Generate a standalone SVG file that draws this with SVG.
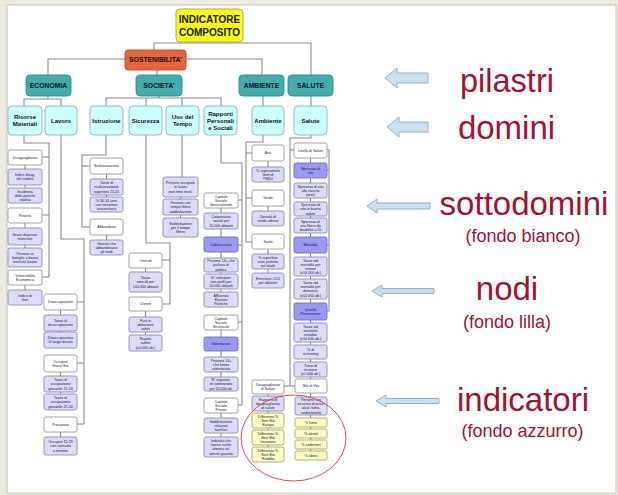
<svg xmlns="http://www.w3.org/2000/svg" width="618" height="495" viewBox="0 0 618 495">
<style>
.c{stroke:#8a8a8a;stroke-width:1.1;fill:none}
.b{stroke-width:0.9}
.top{fill:#ffff00;stroke:#999}
.sos{fill:#e8643c;stroke:#b05030}
.pil{fill:#41adad;stroke:#2f8c8c}
.dom{fill:#ccffff;stroke:#8ab4b4}
.w{fill:#ffffff;stroke:#9a9a9a}
.l{fill:#dcdcf8;stroke:#8c8cb4}
.p{fill:#9a9af5;stroke:#6f6fc0}
.y{fill:#fafac0;stroke:#a8a870}
.h{font-family:"Liberation Sans",Arial,sans-serif;font-weight:bold;fill:#111;text-anchor:middle}
.s{font-family:"Liberation Sans",Arial,sans-serif;font-size:3.6px;fill:#202040;text-anchor:middle}
.ds{font-family:"Liberation Sans",Arial,sans-serif;font-weight:bold;font-size:6px;fill:#111;text-anchor:middle}
.lg{font-family:"Liberation Sans",Arial,sans-serif;fill:#a3122e;text-anchor:middle}
.ar{fill:#c9e0ee;stroke:#8db4cc;stroke-width:1}
</style>

<!-- page frame -->
<rect x="0" y="0" width="618" height="495" fill="#edeae0"/>
<rect x="7" y="5" width="609" height="488" fill="#ffffff" stroke="#c8c6bc" stroke-width="1"/>

<!-- connectors -->
<g id="connectors" class="c">
  <polyline points="209,42 209,43"/>
  <polyline points="154,50 154,43 311,43 311,75"/>
  <polyline points="48,75 48,59 262,59 262,75"/>
  <polyline points="157,70 157,75"/>
  <polyline points="48,96 48,99"/>
  <polyline points="24,106 24,99 61,99 61,106"/>
  <polyline points="159,96 159,98"/>
  <polyline points="106,106 106,98 221,98 221,106"/>
  <polyline points="146,98 146,106"/>
  <polyline points="182,98 182,106"/>
  <polyline points="263,96 263,106"/>
  <polyline points="311,96 311,106"/>
  <!-- Risorse Materiali -->
  <polyline points="24,135 24,143 49,143 49,277"/>
  <polyline points="42,157 49,157"/><polyline points="42,215 49,215"/><polyline points="42,277 49,277"/>
  <polyline points="25,165 25,188"/><polyline points="25,223 25,248"/><polyline points="25,285 25,290"/>
  <!-- Lavoro -->
  <polyline points="61,135 61,239 84,239 84,424"/>
  <polyline points="77,302 84,302"/><polyline points="77,363 84,363"/><polyline points="77,424 84,424"/>
  <polyline points="60.5,310 60.5,332"/><polyline points="60.5,372 60.5,394"/><polyline points="60.5,432 60.5,437"/>
  <!-- Istruzione -->
  <polyline points="106,135 106,155 82,155 82,227"/>
  <polyline points="82,166 90,166"/><polyline points="82,227 90,227"/>
  <polyline points="106.5,174 106.5,197"/><polyline points="106.5,235 106.5,240"/>
  <!-- Sicurezza -->
  <polyline points="146,135 146,243 170,243 170,304"/>
  <polyline points="162,260 170,260"/><polyline points="162,304 170,304"/>
  <polyline points="145.5,268 145.5,272"/><polyline points="145.5,311 145.5,335"/>
  <!-- Uso del Tempo -->
  <polyline points="182,135 182,177"/>
  <polyline points="180.5,197 180.5,218"/>
  <!-- Rapporti Personali e Sociali -->
  <polyline points="221,135 221,163 242,163 242,405"/>
  <polyline points="238,200 242,200"/><polyline points="238,245 242,245"/><polyline points="238,322 242,322"/><polyline points="238,405 242,405"/>
  <polyline points="221,208 221,292"/><polyline points="221,330 221,377"/><polyline points="221,413 221,437"/>
  <!-- Ambiente -->
  <polyline points="263,135 263,142 246,142 246,242"/>
  <polyline points="246,153 252,153"/><polyline points="246,198 252,198"/><polyline points="246,242 252,242"/>
  <polyline points="268,161 268,167"/><polyline points="268,206 268,211"/><polyline points="268,249 268,273"/>
  <!-- Salute -->
  <polyline points="311,135 311,138 290,138 290,386"/>
  <polyline points="290,150 294,150"/><polyline points="284,386 295,386"/>
  <polyline points="327,150 329,150 329,311 327,311"/>
  <polyline points="327,170 329,170"/><polyline points="327,245 329,245"/>
  <polyline points="310.5,158 310.5,451"/>
  <polyline points="268,394 268,447"/>
</g>

<!-- top levels -->
<g id="n-indicatore"><rect class="top b" x="176" y="9" width="67" height="33" rx="4"/><text class="h" font-size="10" x="209.5" y="23">INDICATORE</text><text class="h" font-size="10" x="209.5" y="35.5">COMPOSITO</text></g>
<g id="n-sostenibilita"><rect class="sos b" x="125" y="50" width="61" height="20" rx="3"/><text class="h" font-size="6.8" x="155.5" y="62.4">SOSTENIBILITA'</text></g>
<g id="n-economia"><rect class="pil b" x="26" y="75" width="45" height="21" rx="4"/><text class="h" font-size="6.8" x="48.5" y="88">ECONOMIA</text></g>
<g id="n-societa"><rect class="pil b" x="136" y="75" width="46" height="21" rx="4"/><text class="h" font-size="6.8" x="159" y="88">SOCIETA'</text></g>
<g id="n-ambiente"><rect class="pil b" x="239" y="75" width="45" height="21" rx="4"/><text class="h" font-size="6.8" x="261.5" y="88">AMBIENTE</text></g>
<g id="n-salute"><rect class="pil b" x="288" y="75" width="45" height="21" rx="4"/><text class="h" font-size="6.8" x="310.5" y="88">SALUTE</text></g>

<!-- domains -->
<g id="d-risorse"><rect class="dom b" x="8" y="106" width="34" height="29" rx="4"/><text class="ds" x="25" y="119">Risorse</text><text class="ds" x="25" y="126">Materiali</text></g>
<g id="d-lavoro"><rect class="dom b" x="45" y="106" width="32" height="29" rx="4"/><text class="ds" x="61" y="122.5">Lavoro</text></g>
<g id="d-istruzione"><rect class="dom b" x="90" y="106" width="33" height="29" rx="4"/><text class="ds" x="106.5" y="122.5">Istruzione</text></g>
<g id="d-sicurezza"><rect class="dom b" x="129" y="106" width="33" height="29" rx="4"/><text class="ds" x="145.5" y="122.5">Sicurezza</text></g>
<g id="d-tempo"><rect class="dom b" x="166" y="106" width="33" height="29" rx="4"/><text class="ds" x="182.5" y="119">Uso del</text><text class="ds" x="182.5" y="126">Tempo</text></g>
<g id="d-rapporti"><rect class="dom b" x="204" y="106" width="33" height="29" rx="4"/><text class="ds" x="220.5" y="115.5">Rapporti</text><text class="ds" x="220.5" y="122.5">Personali</text><text class="ds" x="220.5" y="129.5">e Sociali</text></g>
<g id="d-ambiente"><rect class="dom b" x="252" y="106" width="32" height="29" rx="4"/><text class="ds" x="268" y="122.5">Ambiente</text></g>
<g id="d-salute"><rect class="dom b" x="294" y="106" width="33" height="29" rx="4"/><text class="ds" x="310.5" y="122.5">Salute</text></g>

<!-- Risorse Materiali -->
<g id="rm1"><rect class="w b" x="8" y="150" width="34" height="15" rx="2"/><text class="s" x="25" y="158.8">Disuguaglianza</text></g>
<g id="rm2"><rect class="l b" x="8" y="169" width="34" height="16" rx="2"/><text class="s" x="25" y="176.2">Indice disug.</text><text class="s" x="25" y="180.4">del reddito</text></g>
<g id="rm3"><rect class="l b" x="8" y="188" width="34" height="15" rx="2"/><text class="s" x="25" y="192.6">Incidenza</text><text class="s" x="25" y="196.8">della povertà</text><text class="s" x="25" y="201">relativa</text></g>
<g id="rm4"><rect class="w b" x="8" y="208" width="34" height="15" rx="2"/><text class="s" x="25" y="216.8">Povertà</text></g>
<g id="rm5"><rect class="l b" x="8" y="228" width="34" height="17" rx="2"/><text class="s" x="25" y="235.7">Grave deprivaz.</text><text class="s" x="25" y="239.9">materiale</text></g>
<g id="rm6"><rect class="l b" x="8" y="248" width="34" height="19" rx="2"/><text class="s" x="25" y="254.6">Persone in</text><text class="s" x="25" y="258.8">famiglie a bassa</text><text class="s" x="25" y="263">intensità lavoro</text></g>
<g id="rm7"><rect class="w b" x="8" y="270" width="34" height="15" rx="2"/><text class="s" x="25" y="276.7">Vulnerabilità</text><text class="s" x="25" y="280.9">Economica</text></g>
<g id="rm8"><rect class="l b" x="8" y="290" width="34" height="15" rx="2"/><text class="s" x="25" y="296.7">Indice di</text><text class="s" x="25" y="300.9">Gini</text></g>

<!-- Lavoro -->
<g id="lv1"><rect class="w b" x="44" y="294" width="33" height="16" rx="2"/><text class="s" x="60.5" y="303.3">Disoccupazione</text></g>
<g id="lv2"><rect class="l b" x="44" y="315" width="33" height="16" rx="2"/><text class="s" x="60.5" y="322.2">Tasso di</text><text class="s" x="60.5" y="326.4">disoccupazione</text></g>
<g id="lv3"><rect class="l b" x="44" y="332" width="33" height="16" rx="2"/><text class="s" x="60.5" y="339.2">Disoccupazione</text><text class="s" x="60.5" y="343.4">di lunga durata</text></g>
<g id="lv4"><rect class="w b" x="44" y="355" width="33" height="17" rx="2"/><text class="s" x="60.5" y="362.7">Occupati</text><text class="s" x="60.5" y="366.9">Fasce Età</text></g>
<g id="lv5"><rect class="l b" x="44" y="376" width="33" height="16" rx="2"/><text class="s" x="60.5" y="381.1">Tasso di</text><text class="s" x="60.5" y="385.3">occupazione</text><text class="s" x="60.5" y="389.5">giovanile 15-24</text></g>
<g id="lv6"><rect class="l b" x="44" y="394" width="33" height="16" rx="2"/><text class="s" x="60.5" y="399.1">Tasso di</text><text class="s" x="60.5" y="403.3">occupazione</text><text class="s" x="60.5" y="407.5">giovanile 25-34</text></g>
<g id="lv7"><rect class="w b" x="44" y="417" width="33" height="15" rx="2"/><text class="s" x="60.5" y="425.8">Precariato</text></g>
<g id="lv8"><rect class="l b" x="44" y="437" width="33" height="18" rx="2"/><text class="s" x="60.5" y="443.1">Occupati 15-29</text><text class="s" x="60.5" y="447.3">con contratto</text><text class="s" x="60.5" y="451.5">a termine</text></g>

<!-- Istruzione -->
<g id="is1"><rect class="w b" x="90" y="158" width="33" height="16" rx="2"/><text class="s" x="106.5" y="167.3">Scolarizzazione</text></g>
<g id="is2"><rect class="l b" x="90" y="179" width="33" height="16" rx="2"/><text class="s" x="106.5" y="184.1">Tasso di</text><text class="s" x="106.5" y="188.3">scolarizzazione</text><text class="s" x="106.5" y="192.5">superiore 20-24</text></g>
<g id="is3"><rect class="l b" x="90" y="197" width="33" height="15" rx="2"/><text class="s" x="106.5" y="201.6">% 30-34 anni</text><text class="s" x="106.5" y="205.8">con istruzione</text><text class="s" x="106.5" y="210">universitaria</text></g>
<g id="is4"><rect class="w b" x="90" y="219" width="33" height="16" rx="2"/><text class="s" x="106.5" y="228.3">Abbandono</text></g>
<g id="is5"><rect class="l b" x="90" y="240" width="33" height="15" rx="2"/><text class="s" x="106.5" y="244.6">Giovani che</text><text class="s" x="106.5" y="248.8">abbandonano</text><text class="s" x="106.5" y="253">gli studi</text></g>

<!-- Sicurezza -->
<g id="sc1"><rect class="w b" x="129" y="253" width="33" height="15" rx="2"/><text class="s" x="145.5" y="261.8">Omicidi</text></g>
<g id="sc2"><rect class="l b" x="129" y="272" width="33" height="20" rx="2"/><text class="s" x="145.5" y="279.1">Tasso</text><text class="s" x="145.5" y="283.3">omicidi per</text><text class="s" x="145.5" y="287.5">100.000 abitanti</text></g>
<g id="sc3"><rect class="w b" x="129" y="297" width="33" height="14" rx="2"/><text class="s" x="145.5" y="305.3">Crimini</text></g>
<g id="sc4"><rect class="l b" x="129" y="317" width="33" height="15" rx="2"/><text class="s" x="145.5" y="321.6">Furti in</text><text class="s" x="145.5" y="325.8">abitazione</text><text class="s" x="145.5" y="330">subiti</text></g>
<g id="sc5"><rect class="l b" x="129" y="335" width="33" height="16" rx="2"/><text class="s" x="145.5" y="340.1">Rapine</text><text class="s" x="145.5" y="344.3">subite</text><text class="s" x="145.5" y="348.5">(x1.000 ab.)</text></g>

<!-- Uso del Tempo -->
<g id="ut1"><rect class="l b" x="163" y="177" width="35" height="20" rx="2"/><text class="s" x="180.5" y="184.1">Persone occupate</text><text class="s" x="180.5" y="188.3">in lavori</text><text class="s" x="180.5" y="192.5">part-time invol.</text></g>
<g id="ut2"><rect class="l b" x="163" y="199" width="35" height="16" rx="2"/><text class="s" x="180.5" y="204.1">Persone con</text><text class="s" x="180.5" y="208.3">tempo libero</text><text class="s" x="180.5" y="212.5">soddisfacente</text></g>
<g id="ut3"><rect class="l b" x="163" y="218" width="35" height="19" rx="2"/><text class="s" x="180.5" y="224.6">Soddisfazione</text><text class="s" x="180.5" y="228.8">per il tempo</text><text class="s" x="180.5" y="233">libero</text></g>

<!-- Rapporti Personali e Sociali -->
<g id="rp1"><rect class="w b" x="204" y="193" width="34" height="15" rx="2"/><text class="s" x="221" y="197.6">Capitale</text><text class="s" x="221" y="201.8">Sociale</text><text class="s" x="221" y="206">Generalizzato</text></g>
<g id="rp2"><rect class="l b" x="204" y="213" width="34" height="16" rx="2"/><text class="s" x="221" y="218.1">Cooperative</text><text class="s" x="221" y="222.3">sociali per</text><text class="s" x="221" y="226.5">10.000 abitanti</text></g>
<g id="rp3"><rect class="p b" x="204" y="237" width="34" height="15" rx="2"/><text class="s" x="221" y="245.8">Cultura civica</text></g>
<g id="rp4"><rect class="l b" x="204" y="258" width="34" height="14" rx="2"/><text class="s" x="221" y="262.1">Persone 14+ che</text><text class="s" x="221" y="266.3">parlano di</text><text class="s" x="221" y="270.5">politica</text></g>
<g id="rp5"><rect class="l b" x="204" y="274" width="34" height="15" rx="2"/><text class="s" x="221" y="278.6">N° istituzioni</text><text class="s" x="221" y="282.8">non profit per</text><text class="s" x="221" y="287">10.000 abitanti</text></g>
<g id="rp6"><rect class="l b" x="204" y="292" width="34" height="15" rx="2"/><text class="s" x="221" y="296.6">Affluenza</text><text class="s" x="221" y="300.8">Elezioni</text><text class="s" x="221" y="305">Politiche</text></g>
<g id="rp7"><rect class="w b" x="204" y="315" width="34" height="15" rx="2"/><text class="s" x="221" y="319.6">Capitale</text><text class="s" x="221" y="323.8">Sociale</text><text class="s" x="221" y="328">Strutturale</text></g>
<g id="rp8"><rect class="p b" x="204" y="337" width="34" height="14" rx="2"/><text class="s" x="221" y="345.3">Volontariato</text></g>
<g id="rp9"><rect class="l b" x="204" y="357" width="34" height="15" rx="2"/><text class="s" x="221" y="361.6">Persone 14+</text><text class="s" x="221" y="365.8">che fanno</text><text class="s" x="221" y="370">volontariato</text></g>
<g id="rp10"><rect class="l b" x="204" y="377" width="34" height="14" rx="2"/><text class="s" x="221" y="381.1">N° organizz.</text><text class="s" x="221" y="385.3">di volontariato</text><text class="s" x="221" y="389.5">per 10.000 ab.</text></g>
<g id="rp11"><rect class="w b" x="204" y="398" width="34" height="15" rx="2"/><text class="s" x="221" y="402.6">Capitale</text><text class="s" x="221" y="406.8">Sociale</text><text class="s" x="221" y="411">Privato</text></g>
<g id="rp12"><rect class="l b" x="204" y="418" width="34" height="15" rx="2"/><text class="s" x="221" y="422.6">Soddisfazione</text><text class="s" x="221" y="426.8">relazioni</text><text class="s" x="221" y="431">familiari</text></g>
<g id="rp13"><rect class="l b" x="204" y="437" width="34" height="20" rx="2"/><text class="s" x="221" y="442">Individui che</text><text class="s" x="221" y="446.2">hanno svolto</text><text class="s" x="221" y="450.4">almeno un'</text><text class="s" x="221" y="454.6">attività gratuita</text></g>

<!-- Ambiente -->
<g id="am1"><rect class="w b" x="252" y="145" width="32" height="16" rx="2"/><text class="s" x="268" y="154.3">Aria</text></g>
<g id="am2"><rect class="l b" x="252" y="167" width="32" height="15" rx="2"/><text class="s" x="268" y="171.6">% superamenti</text><text class="s" x="268" y="175.8">limiti di</text><text class="s" x="268" y="180">PM10</text></g>
<g id="am3"><rect class="w b" x="252" y="190" width="32" height="16" rx="2"/><text class="s" x="268" y="199.3">Verde</text></g>
<g id="am4"><rect class="l b" x="252" y="211" width="32" height="15" rx="2"/><text class="s" x="268" y="217.7">Densità di</text><text class="s" x="268" y="221.9">verde urbano</text></g>
<g id="am5"><rect class="w b" x="252" y="234" width="32" height="15" rx="2"/><text class="s" x="268" y="242.8">Suolo</text></g>
<g id="am6"><rect class="l b" x="252" y="254" width="32" height="15" rx="2"/><text class="s" x="268" y="258.6">% superficie</text><text class="s" x="268" y="262.8">aree protette</text><text class="s" x="268" y="267">sul totale</text></g>
<g id="am7"><rect class="l b" x="252" y="273" width="32" height="15" rx="2"/><text class="s" x="268" y="279.7">Emissioni CO2</text><text class="s" x="268" y="283.9">per abitante</text></g>

<!-- Salute -->
<g id="sa1"><rect class="w b" x="294" y="143" width="33" height="15" rx="2"/><text class="s" x="310.5" y="151.8">Livello di Salute</text></g>
<g id="sa2"><rect class="p b" x="294" y="163" width="33" height="15" rx="2"/><text class="s" x="310.5" y="169.7">Speranza di</text><text class="s" x="310.5" y="173.9">vita</text></g>
<g id="sa3"><rect class="l b" x="294" y="183" width="33" height="15" rx="2"/><text class="s" x="310.5" y="187.6">Speranza di vita</text><text class="s" x="310.5" y="191.8">alla nascita</text><text class="s" x="310.5" y="196">(anni)</text></g>
<g id="sa4"><rect class="l b" x="294" y="202" width="33" height="14" rx="2"/><text class="s" x="310.5" y="206.1">Speranza di</text><text class="s" x="310.5" y="210.3">vita in buona</text><text class="s" x="310.5" y="214.5">salute</text></g>
<g id="sa5"><rect class="l b" x="294" y="218" width="33" height="15" rx="2"/><text class="s" x="310.5" y="222.6">Speranza di</text><text class="s" x="310.5" y="226.8">vita libera da</text><text class="s" x="310.5" y="231">disabilità a 65</text></g>
<g id="sa6"><rect class="p b" x="294" y="237" width="33" height="16" rx="2"/><text class="s" x="310.5" y="246.3">Mortalità</text></g>
<g id="sa7"><rect class="l b" x="294" y="257" width="33" height="19" rx="2"/><text class="s" x="310.5" y="261.5">Tasso std</text><text class="s" x="310.5" y="265.7">mortalità per</text><text class="s" x="310.5" y="269.9">tumore</text><text class="s" x="310.5" y="274.1">(x10.000 ab.)</text></g>
<g id="sa8"><rect class="l b" x="294" y="279" width="33" height="20" rx="2"/><text class="s" x="310.5" y="284">Tasso std</text><text class="s" x="310.5" y="288.2">mortalità per</text><text class="s" x="310.5" y="292.4">demenze</text><text class="s" x="310.5" y="296.6">(x10.000 ab.)</text></g>
<g id="sa9"><rect class="p b" x="294" y="303" width="33" height="17" rx="2"/><text class="s" x="310.5" y="310.7">Qualità</text><text class="s" x="310.5" y="314.9">Prevenzione</text></g>
<g id="sa10"><rect class="l b" x="294" y="323" width="33" height="19" rx="2"/><text class="s" x="310.5" y="327.5">Tasso std</text><text class="s" x="310.5" y="331.7">mortalità</text><text class="s" x="310.5" y="335.9">evitabile</text><text class="s" x="310.5" y="340.1">(x10.000 ab.)</text></g>
<g id="sa11"><rect class="l b" x="294" y="345" width="33" height="14" rx="2"/><text class="s" x="310.5" y="351.2">% di</text><text class="s" x="310.5" y="355.4">screening</text></g>
<g id="sa12"><rect class="l b" x="294" y="362" width="33" height="15" rx="2"/><text class="s" x="310.5" y="366.6">Tasso di</text><text class="s" x="310.5" y="370.8">ricovero</text><text class="s" x="310.5" y="375">(x1.000 ab.)</text></g>
<g id="sa13"><rect class="w b" x="295" y="379" width="32" height="14" rx="2"/><text class="s" x="311" y="387.3">Stili di Vita</text></g>
<g id="sa14"><rect class="l b" x="295" y="397" width="32" height="18" rx="2"/><text class="s" x="311" y="401">Persone con</text><text class="s" x="311" y="405.2">eccesso di peso,</text><text class="s" x="311" y="409.4">alcol, fumo,</text><text class="s" x="311" y="413.6">sedentarietà</text></g>
<g id="sa15"><rect class="y b" x="295" y="418" width="32" height="9" rx="1.5"/><text class="s" x="311" y="423.8">% fumo</text></g>
<g id="sa16"><rect class="y b" x="295" y="429" width="32" height="9" rx="1.5"/><text class="s" x="311" y="434.8">% alcool</text></g>
<g id="sa17"><rect class="y b" x="295" y="440" width="32" height="9" rx="1.5"/><text class="s" x="311" y="445.8">% sedentari</text></g>
<g id="sa18"><rect class="y b" x="295" y="451" width="32" height="9" rx="1.5"/><text class="s" x="311" y="456.8">% obesi</text></g>

<!-- Disuguaglianze di Salute -->
<g id="ds1"><rect class="w b" x="252" y="380" width="32" height="14" rx="2"/><text class="s" x="268" y="386.2">Disuguaglianze</text><text class="s" x="268" y="390.4">di Salute</text></g>
<g id="ds2"><rect class="l b" x="252" y="396" width="32" height="15" rx="2"/><text class="s" x="268" y="400.6">Rapporto di</text><text class="s" x="268" y="404.8">disuguaglianza</text><text class="s" x="268" y="409">di salute</text></g>
<g id="ds3"><rect class="y b" x="252" y="413" width="32" height="15" rx="2"/><text class="s" x="268" y="417.6">Differenza %</text><text class="s" x="268" y="421.8">Sani Età</text><text class="s" x="268" y="426">Europa</text></g>
<g id="ds4"><rect class="y b" x="252" y="430" width="32" height="15" rx="2"/><text class="s" x="268" y="434.6">Differenza %</text><text class="s" x="268" y="438.8">Sani Età</text><text class="s" x="268" y="443">Istruzione</text></g>
<g id="ds5"><rect class="y b" x="252" y="447" width="32" height="15" rx="2"/><text class="s" x="268" y="451.6">Differenza %</text><text class="s" x="268" y="455.8">Sani Età</text><text class="s" x="268" y="460">Reddito</text></g>

<!-- highlight ring round the indicators -->
<ellipse cx="293.5" cy="438" rx="52.5" ry="43" fill="none" stroke="#e84848" stroke-width="1"/>

<!-- legend -->
<g id="legend">
  <polygon class="ar" points="385,78 397,68 397,73 428,73 428,83 397,83 397,88"/>
  <polygon class="ar" points="387,127 399,117 399,122 428,122 428,132 399,132 399,137"/>
  <polygon class="ar" points="367,206 377,199 377,203 430,203 430,209 377,209 377,213"/>
  <polygon class="ar" points="372,291 382,285 382,288.5 434,288.5 434,293.5 382,293.5 382,297"/>
  <polygon class="ar" points="376,401 386,395 386,398.5 439,398.5 439,403.5 386,403.5 386,407"/>
  <text class="lg" font-size="32.5" x="507" y="92">pilastri</text>
  <text class="lg" font-size="33" x="506.5" y="139">domini</text>
  <text class="lg" font-size="33" x="524" y="215">sottodomini</text>
  <text class="lg" font-size="18" x="523" y="242">(fondo bianco)</text>
  <text class="lg" font-size="33" x="507" y="300">nodi</text>
  <text class="lg" font-size="18" x="507" y="328">(fondo lilla)</text>
  <text class="lg" font-size="33" x="523" y="411">indicatori</text>
  <text class="lg" font-size="18" x="522.5" y="437">(fondo azzurro)</text>
</g>
</svg>
